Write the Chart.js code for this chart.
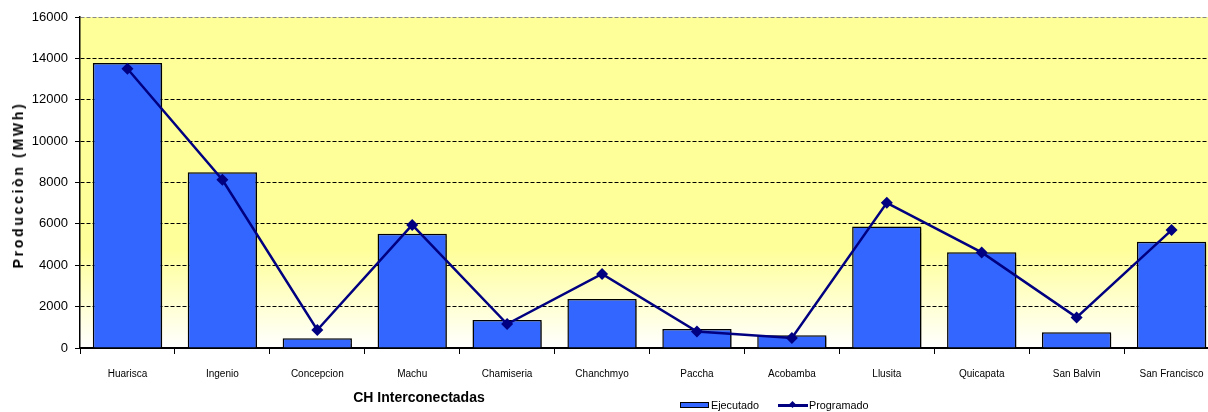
<!DOCTYPE html>
<html>
<head>
<meta charset="utf-8">
<script src="https://cdn.jsdelivr.net/npm/chart.js@4/dist/chart.umd.min.js"></script>
<style>
  html, body { margin: 0; padding: 0; background: #fff; overflow: hidden; }
  #wrap { position: relative; width: 1208px; height: 412px; overflow: hidden; font-family: "Liberation Sans", Arial, sans-serif; }
  canvas { position: absolute; left: 0; top: 0; }
  #ytitle { position: absolute; left: 18px; top: 185px; transform: translate(-50%, -50%) rotate(-90deg); white-space: nowrap; font-weight: bold; font-size: 14px; letter-spacing: 2.7px; color: #000; }
  #xtitle { position: absolute; left: 419px; top: 397px; transform: translate(-50%, -50%); white-space: nowrap; font-weight: bold; font-size: 14px; color: #000; }
  #legend { position: absolute; left: 680px; top: 398px; height: 14px; display: flex; align-items: center; font-size: 10.8px; color: #000; white-space: nowrap; }
  .lg-item { display: flex; align-items: center; }
  .lg-box { width: 27px; height: 4px; background: #3366FF; border: 1px solid #000; margin-right: 2px; }
  .lg-line { position: relative; width: 30px; height: 3px; background: #000080; margin-right: 1px; }
  .lg-line::after { content: ""; position: absolute; left: 12px; top: -2px; width: 5px; height: 5px; background: #000080; transform: rotate(45deg); }
</style>
</head>
<body>
<div id="wrap">
  <canvas id="c" width="1225" height="412"></canvas>
  <div id="ytitle">Producciòn (MWh)</div>
  <div id="xtitle">CH Interconectadas</div>
  <div id="legend"></div>
</div>
<script>
const categories = ['Huarisca', 'Ingenio', 'Concepcion', 'Machu', 'Chamiseria', 'Chanchmyo', 'Paccha', 'Acobamba', 'Llusita', 'Quicapata', 'San Balvin', 'San Francisco'];
const ejecutado = [13780, 8500, 470, 5520, 1350, 2370, 920, 620, 5870, 4630, 760, 5140];
const programado = [13500, 8130, 870, 5950, 1160, 3580, 800, 480, 7020, 4620, 1480, 5700];
const seriesNames = ['Ejecutado', 'Programado'];
const yMin = 0, yMax = 16000, yStep = 2000;

const bgPlugin = {
  id: 'bgPlugin',
  beforeDraw(chart) {
    const { ctx, chartArea: a } = chart;
    const g = ctx.createLinearGradient(0, a.top, 0, a.bottom);
    g.addColorStop(0, '#FFFF99');
    g.addColorStop(0.70, '#FFFF99');
    g.addColorStop(1, '#FFFFFF');
    ctx.save();
    ctx.fillStyle = g;
    ctx.fillRect(a.left, a.top, a.right - a.left, a.bottom - a.top);
    ctx.restore();
  }
};

const shadowPlugin = {
  id: 'shadowPlugin',
  beforeDatasetDraw(chart, args) {
    if (chart.data.datasets[args.index].type === 'bar') {
      const ctx = chart.ctx;
      ctx.save();
      ctx.shadowColor = 'rgba(0,0,0,0.35)';
      ctx.shadowOffsetX = 2;
      ctx.shadowOffsetY = 2;
      ctx.shadowBlur = 1;
    }
  },
  afterDatasetDraw(chart, args) {
    if (chart.data.datasets[args.index].type === 'bar') {
      chart.ctx.restore();
    }
  }
};

Chart.defaults.font.family = '"Liberation Sans", Arial, sans-serif';
Chart.defaults.color = '#000';

const chart = new Chart(document.getElementById('c'), {
  data: {
    labels: categories,
    datasets: [
      {
        type: 'line',
        label: seriesNames[1],
        data: programado,
        borderColor: '#000080',
        backgroundColor: '#000080',
        borderWidth: 2.5,
        pointStyle: 'rectRot',
        pointRadius: 6,
        pointBorderWidth: 0,
        tension: 0,
        order: 0
      },
      {
        type: 'bar',
        label: seriesNames[0],
        data: ejecutado,
        backgroundColor: '#3366FF',
        borderColor: '#000000',
        borderWidth: 1.5,
        categoryPercentage: 1.0,
        barPercentage: 0.73,
        order: 1
      }
    ]
  },
  options: {
    responsive: false,
    animation: false,
    layout: { padding: { left: 0, right: 1, top: 17, bottom: 0 } },
    plugins: {
      legend: { display: false },
      tooltip: { enabled: false }
    },
    scales: {
      x: {
        type: 'category',
        offset: true,
        border: { display: true, color: '#000', width: 2 },
        grid: { offset: true, drawOnChartArea: false, drawTicks: true, tickLength: 6, color: '#000', tickColor: '#000' },
        ticks: { font: { size: 10 }, padding: 14, maxRotation: 0, autoSkip: false },
        afterFit(scale) { scale.height = 64; }
      },
      y: {
        min: yMin,
        max: yMax,
        grid: {
          color(ctx) {
            if (ctx.tick && ctx.tick.value === yMax) return '#888';
            if (ctx.tick && ctx.tick.value === yMin) return 'rgba(0,0,0,0)';
            return '#000';
          },
          lineWidth: 1,
          tickColor: '#000',
          tickLength: 5,
          drawTicks: true
        },
        border: { display: true, color: '#000', width: 1.5, dash: [4, 2] },
        ticks: { stepSize: yStep, font: { size: 13 }, padding: 7, callback: v => String(v) },
        afterFit(scale) { scale.width = 80; }
      }
    }
  },
  plugins: [bgPlugin, shadowPlugin]
});

// legend from dataset names
const lg = document.getElementById('legend');
lg.innerHTML =
  '<div class="lg-item"><div class="lg-box"></div><span>' + seriesNames[0] + '</span></div>' +
  '<div class="lg-item" style="margin-left:19px"><div class="lg-line"></div><span>' + seriesNames[1] + '</span></div>';
</script>
</body>
</html>
